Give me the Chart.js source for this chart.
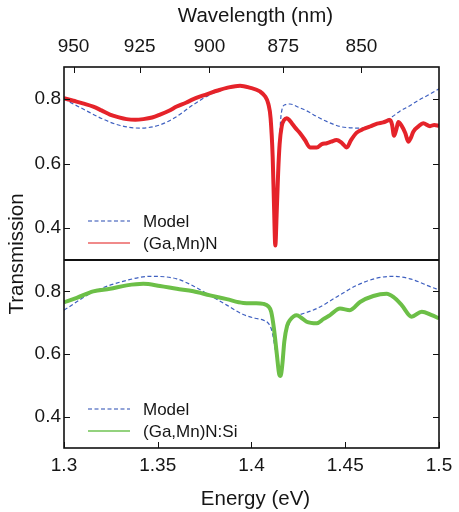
<!DOCTYPE html>
<html><head><meta charset="utf-8">
<script src="https://cdn.jsdelivr.net/npm/chart.js@4"></script>
<style>html,body{margin:0;padding:0;background:#fff}#wrap{position:relative;width:459px;height:512px}</style>
</head><body><div id="wrap"><canvas id="c" width="459" height="512"></canvas></div>
<script>
// ---- tick labels ----
const energyTicks = [1.3, 1.35, 1.4, 1.45, 1.5];
const wavelengthTicks = [950, 925, 900, 875, 850];
const transTicks = [0.4, 0.6, 0.8];

// ---- top panel: (Ga,Mn)N measured ----
const energyGaMnN = [1.300,1.305,1.310,1.3156,1.320,1.3245,1.329,1.3334,1.338,1.3423,1.347,1.3512,1.356,1.3601,1.365,1.369,1.3735,1.3779,1.382,1.3868,1.3939,1.399,1.4045,1.4072,1.409,1.4102,1.4113,1.412,1.4127,1.4134,1.4142,1.415,1.4161,1.4175,1.4188,1.420,1.4214,1.4235,1.4259,1.4285,1.4312,1.4348,1.4375,1.4401,1.4425,1.4454,1.448,1.4508,1.453,1.4561,1.460,1.4632,1.467,1.4703,1.4739,1.475,1.476,1.4772,1.4783,1.4801,1.482,1.4836,1.485,1.4863,1.489,1.4916,1.4952,1.4975,1.500];
const transGaMnN = [0.803,0.795,0.787,0.777,0.765,0.752,0.744,0.738,0.736,0.738,0.743,0.752,0.764,0.777,0.789,0.800,0.810,0.819,0.827,0.835,0.842,0.836,0.824,0.809,0.785,0.740,0.620,0.470,0.345,0.440,0.570,0.660,0.715,0.736,0.741,0.736,0.726,0.710,0.694,0.673,0.650,0.650,0.660,0.663,0.668,0.673,0.665,0.650,0.672,0.696,0.708,0.715,0.724,0.728,0.735,0.720,0.686,0.705,0.729,0.717,0.695,0.668,0.680,0.699,0.715,0.725,0.716,0.720,0.717];

// ---- top panel: model ----
const energyModelTop = [1.300,1.310,1.320,1.330,1.3405,1.3512,1.3601,1.369,1.3779,1.3868,1.3939,1.399,1.4045,1.4072,1.409,1.4105,1.4115,1.4125,1.4132,1.414,1.415,1.416,1.418,1.4205,1.425,1.430,1.4348,1.440,1.4472,1.4525,1.4579,1.4632,1.4703,1.475,1.479,1.484,1.488,1.494,1.500];
const transModelTop = [0.800,0.770,0.740,0.718,0.710,0.720,0.746,0.783,0.814,0.833,0.843,0.837,0.822,0.805,0.780,0.700,0.550,0.380,0.360,0.500,0.680,0.760,0.783,0.785,0.775,0.762,0.746,0.731,0.715,0.711,0.710,0.716,0.731,0.745,0.762,0.778,0.793,0.812,0.832];

// ---- bottom panel: (Ga,Mn)N:Si measured ----
const energyGaMnNSi = [1.300,1.3068,1.3156,1.3245,1.3334,1.3423,1.3512,1.3601,1.369,1.3779,1.3868,1.3956,1.4019,1.4063,1.409,1.4105,1.412,1.4135,1.4148,1.4155,1.4165,1.4175,1.419,1.4205,1.4241,1.4267,1.4294,1.4348,1.4385,1.4419,1.4472,1.4525,1.4579,1.465,1.4721,1.4756,1.4801,1.4854,1.4908,1.4961,1.500];
const transGaMnNSi = [0.765,0.779,0.800,0.808,0.819,0.824,0.817,0.808,0.800,0.787,0.775,0.763,0.762,0.760,0.752,0.735,0.680,0.600,0.535,0.530,0.570,0.640,0.690,0.708,0.724,0.715,0.703,0.698,0.712,0.724,0.745,0.740,0.766,0.785,0.792,0.782,0.756,0.719,0.735,0.724,0.714];

// ---- bottom panel: model ----
const energyModelBot = [1.300,1.3156,1.3334,1.346,1.3601,1.369,1.3779,1.3868,1.3956,1.4019,1.4063,1.409,1.411,1.4125,1.4135,1.4145,1.4155,1.4168,1.418,1.4195,1.4215,1.425,1.4348,1.4454,1.4561,1.4668,1.4756,1.4845,1.4985,1.500];
const transModelBot = [0.740,0.798,0.835,0.848,0.840,0.817,0.787,0.756,0.726,0.714,0.708,0.698,0.671,0.620,0.580,0.545,0.550,0.600,0.660,0.687,0.715,0.724,0.745,0.782,0.819,0.842,0.848,0.840,0.808,0.806];

const HC = 1239.84;
const pts = (xs, ys) => xs.map((x, i) => ({x, y: ys[i]}));

const RED = '#e5232a', GREEN = '#6cbf47', BLUE = '#3f60c0';
const TXT = '#161616';
const FONT = '"Liberation Sans", Arial, Helvetica, sans-serif';
const tickFont = {family: FONT, size: 19};

const deco = {
  id: 'deco',
  afterDraw(chart) {
    const {ctx, chartArea: ca, scales} = chart;
    const yT = scales.yTop, yB = scales.yBot, x = scales.x, xt = scales.xTop;
    ctx.save();
    ctx.strokeStyle = '#111';
    ctx.lineWidth = 1;
    const L = 6;
    ctx.beginPath();
    x.ticks.forEach(t => { const p = Math.round(x.getPixelForValue(t.value)) + 0.5; ctx.moveTo(p, yB.bottom); ctx.lineTo(p, yB.bottom - L); });
    xt.ticks.forEach(t => { const p = Math.round(xt.getPixelForValue(t.value)) + 0.5; ctx.moveTo(p, yT.top); ctx.lineTo(p, yT.top + L); });
    [yT, yB].forEach(s => s.ticks.forEach(t => {
      const p = Math.round(s.getPixelForValue(t.value)) + 0.5;
      ctx.moveTo(ca.left, p); ctx.lineTo(ca.left + L, p);
      ctx.moveTo(ca.right, p); ctx.lineTo(ca.right - L, p);
    }));
    ctx.stroke();
    // frame
    ctx.lineWidth = 1.6;
    ctx.strokeRect(ca.left, ca.top, ca.right - ca.left, ca.bottom - ca.top);
    ctx.lineWidth = 2.2;
    ctx.beginPath();
    ctx.moveTo(ca.left, yT.bottom); ctx.lineTo(ca.right, yT.bottom);
    ctx.stroke();
    // axis titles
    ctx.fillStyle = TXT;
    ctx.font = '20.5px ' + FONT;
    ctx.textAlign = 'center';
    ctx.textBaseline = 'middle';
    const cx = (ca.left + ca.right) / 2 + 4;
    ctx.fillText('Wavelength (nm)', cx, 16);
    ctx.fillText('Energy (eV)', cx, 499);
    ctx.save();
    ctx.translate(17, 254);
    ctx.rotate(-Math.PI / 2);
    ctx.fillText('Transmission', 0, 0);
    ctx.restore();
    // legends
    const legend = (bottom, items) => {
      items.forEach((it, i) => {
        const y = bottom - 39 + i * 22;
        ctx.save();
        ctx.strokeStyle = it.color;
        ctx.lineWidth = it.width;
        ctx.setLineDash(it.dash || []);
        ctx.beginPath();
        ctx.moveTo(ca.left + 24, y); ctx.lineTo(ca.left + 66, y);
        ctx.stroke();
        ctx.restore();
        ctx.font = '17px ' + FONT;
        ctx.textAlign = 'left';
        ctx.textBaseline = 'middle';
        ctx.fillStyle = TXT;
        ctx.fillText(it.label, ca.left + 79, y + 1);
      });
    };
    legend(yT.bottom, [
      {label: 'Model', color: '#6f86cc', width: 1.3, dash: [4, 2.5]},
      {label: '(Ga,Mn)N', color: '#f08a8a', width: 2.2}
    ]);
    legend(yB.bottom, [
      {label: 'Model', color: '#6f86cc', width: 1.3, dash: [4, 2.5]},
      {label: '(Ga,Mn)N:Si', color: '#93d27e', width: 2.2}
    ]);
    ctx.restore();
  }
};

const yScale = (w) => ({
  type: 'linear', position: 'left', stack: 'panels', stackWeight: w,
  min: 0.3, max: 0.9,
  afterBuildTicks: s => { s.ticks = transTicks.map(v => ({value: v})); },
  afterFit: s => { s.width = 64; },
  ticks: {font: tickFont, color: TXT, padding: 3, callback: v => v.toFixed(1)},
  grid: {display: false, drawTicks: false},
  border: {display: false}
});

new Chart(document.getElementById('c'), {
  type: 'line',
  data: {
    datasets: [
      {label: '(Ga,Mn)N', data: pts(energyGaMnN, transGaMnN), xAxisID: 'x', yAxisID: 'yTop',
       borderColor: RED, borderWidth: 4, pointRadius: 0, cubicInterpolationMode: 'monotone', fill: false},
      {label: 'Model', data: pts(energyModelTop, transModelTop), xAxisID: 'x', yAxisID: 'yTop',
       borderColor: BLUE, borderWidth: 1.2, borderDash: [4, 2.5], pointRadius: 0, cubicInterpolationMode: 'monotone', fill: false},
      {label: '(Ga,Mn)N:Si', data: pts(energyGaMnNSi, transGaMnNSi), xAxisID: 'x', yAxisID: 'yBot',
       borderColor: GREEN, borderWidth: 4, pointRadius: 0, cubicInterpolationMode: 'monotone', fill: false},
      {label: 'Model', data: pts(energyModelBot, transModelBot), xAxisID: 'x', yAxisID: 'yBot',
       borderColor: BLUE, borderWidth: 1.2, borderDash: [4, 2.5], pointRadius: 0, cubicInterpolationMode: 'monotone', fill: false}
    ]
  },
  options: {
    responsive: false, animation: false, devicePixelRatio: 1,
    layout: {padding: {left: 0, right: 20, top: 0, bottom: 0}},
    plugins: {legend: {display: false}, tooltip: {enabled: false}},
    scales: {
      yBot: yScale(188),
      yTop: yScale(193),
      x: {
        type: 'linear', position: 'bottom', min: 1.3, max: 1.5,
        afterBuildTicks: s => { s.ticks = energyTicks.map(v => ({value: v})); },
        afterFit: s => { s.height = 64; },
        ticks: {font: tickFont, color: TXT, padding: 6, maxRotation: 0, autoSkip: false,
                callback: v => String(+v.toFixed(2))},
        grid: {display: false, drawTicks: false},
        border: {display: false}
      },
      xTop: {
        type: 'linear', position: 'top', min: 1.3, max: 1.5,
        afterBuildTicks: s => { s.ticks = wavelengthTicks.map(w => ({value: HC / w})); },
        afterFit: s => { s.height = 67; },
        ticks: {font: tickFont, color: TXT, padding: 9, maxRotation: 0, autoSkip: false,
                callback: v => String(Math.round(HC / v))},
        grid: {display: false, drawTicks: false},
        border: {display: false}
      }
    }
  },
  plugins: [deco]
});
</script>
</body></html>
